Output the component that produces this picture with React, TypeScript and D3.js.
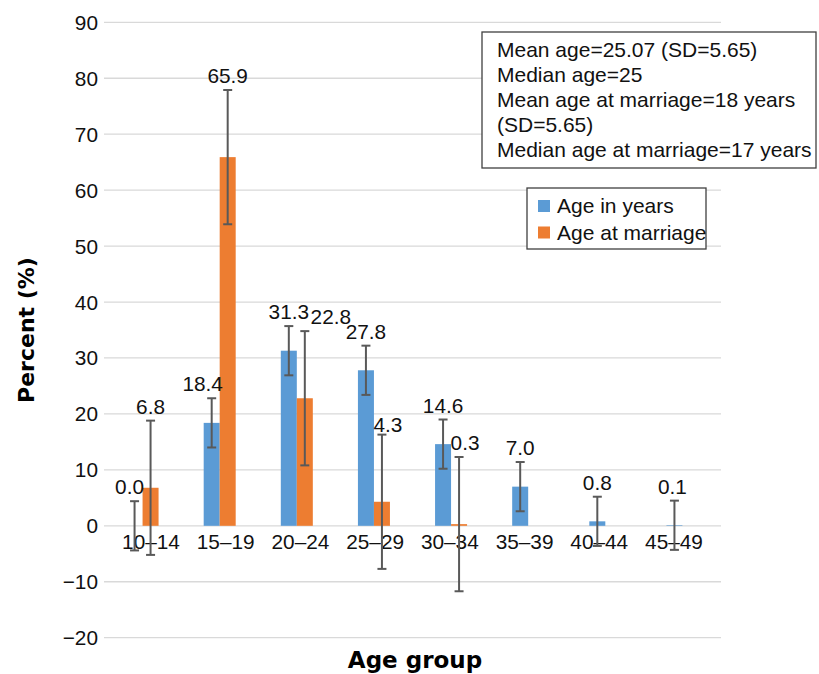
import React, { useEffect, useRef } from "react";
import * as d3 from "d3";

const categories = ["10–14", "15–19", "20–24", "25–29", "30–34", "35–39", "40–44", "45–49"];
const ageInYears = [0.0, 18.4, 31.3, 27.8, 14.6, 7.0, 0.8, 0.1];
const ageAtMarriage = [6.8, 65.9, 22.8, 4.3, 0.3, null, null, null];
const ageInYearsError = [4.4, 4.4, 4.4, 4.4, 4.4, 4.4, 4.4, 4.4];
const ageAtMarriageError = [12, 12, 12, 12, 12, null, null, null];
const yTicks = [-20, -10, 0, 10, 20, 30, 40, 50, 60, 70, 80, 90];
const seriesNames = ["Age in years", "Age at marriage"];
const infoLines = [
  "Mean age=25.07 (SD=5.65)",
  "Median age=25",
  "Mean age at marriage=18 years",
  "(SD=5.65)",
  "Median age at marriage=17 years",
];

const width = 819;
const height = 674;
const colors = ["#5B9BD5", "#ED7D31"];
const FONT = "'Liberation Sans', Arial, sans-serif";

// manual label nudges (Excel-style hand placed labels)
const labelNudge: Record<string, [number, number]> = {
  "0-0": [-5, 0],
  "0-1": [-9, 0],
  "1-2": [26, 0],
  "1-3": [6, 4],
  "1-4": [6, 0],
  "0-7": [-2, 0],
};

export default function App() {
  const svgRef = useRef<SVGSVGElement>(null);

  useEffect(() => {
    document.body.style.margin = "0";
    if (!svgRef.current) return;
    const svg = d3.select(svgRef.current);
    svg.selectAll("*").remove();

    const plot = { left: 104, right: 721, top: 22.3, bottom: 637.7 };

    const y = d3.scaleLinear().domain([-20, 90]).range([plot.bottom, plot.top]);

    const x0 = d3.scaleBand<string>()
      .domain(categories)
      .range([plot.left, plot.right])
      .paddingInner(0.585)
      .paddingOuter(0.2925);

    const x1 = d3.scaleBand<string>()
      .domain(seriesNames)
      .range([0, x0.bandwidth()]);

    // tick labels in the reference sit on a slightly tighter spacing
    const xLabel = d3.scalePoint<string>().domain(categories).range([151, 674]);

    // gridlines
    svg.append("g")
      .selectAll("line")
      .data(yTicks)
      .enter()
      .append("line")
      .attr("x1", plot.left)
      .attr("x2", plot.right)
      .attr("y1", (d) => y(d))
      .attr("y2", (d) => y(d))
      .attr("stroke", "#D9D9D9")
      .attr("stroke-width", 1.3);

    // y tick labels
    svg.append("g")
      .selectAll("text")
      .data(yTicks)
      .enter()
      .append("text")
      .attr("x", 98)
      .attr("y", (d) => y(d))
      .attr("dy", "0.36em")
      .attr("text-anchor", "end")
      .attr("font-family", FONT)
      .attr("font-size", "20.8px")
      .attr("fill", "#111")
      .text((d) => (d < 0 ? `\u2212${Math.abs(d)}` : `${d}`));

    const series = [
      { name: seriesNames[0], values: ageInYears, errors: ageInYearsError, color: colors[0] },
      { name: seriesNames[1], values: ageAtMarriage, errors: ageAtMarriageError, color: colors[1] },
    ];

    // bars
    series.forEach((s) => {
      const pts = categories
        .map((c, i) => ({ c, i, v: s.values[i] }))
        .filter((p) => p.v !== null) as { c: string; i: number; v: number }[];
      svg.append("g")
        .selectAll("rect")
        .data(pts)
        .enter()
        .append("rect")
        .attr("x", (d) => (x0(d.c) || 0) + (x1(s.name) || 0))
        .attr("width", x1.bandwidth())
        .attr("y", (d) => y(Math.max(0, d.v)))
        .attr("height", (d) => Math.abs(y(d.v) - y(0)))
        .attr("fill", s.color);
    });

    // x category labels
    svg.append("g")
      .selectAll("text")
      .data(categories)
      .enter()
      .append("text")
      .attr("x", (d) => xLabel(d) || 0)
      .attr("y", y(0) + 23)
      .attr("text-anchor", "middle")
      .attr("font-family", FONT)
      .attr("font-size", "20.8px")
      .attr("fill", "#111")
      .text((d) => d);

    // error bars + value labels
    series.forEach((s, si) => {
      categories.forEach((c, i) => {
        const v = s.values[i];
        const e = s.errors[i];
        if (v === null || e === null) return;
        const cx = (x0(c) || 0) + (x1(s.name) || 0) + x1.bandwidth() / 2;
        const top = y(v + e);
        const bot = y(v - e);
        const g = svg.append("g")
          .attr("stroke", "#595959")
          .attr("stroke-width", 2);
        g.append("line").attr("x1", cx).attr("x2", cx).attr("y1", top).attr("y2", bot);
        g.append("line").attr("x1", cx - 4.5).attr("x2", cx + 4.5).attr("y1", top).attr("y2", top);
        g.append("line").attr("x1", cx - 4.5).attr("x2", cx + 4.5).attr("y1", bot).attr("y2", bot);

        const [ndx, ndy] = labelNudge[`${si}-${i}`] || [0, 0];
        svg.append("text")
          .attr("x", cx + ndx)
          .attr("y", top - 7 + ndy)
          .attr("text-anchor", "middle")
          .attr("font-family", FONT)
          .attr("font-size", "20.8px")
          .attr("fill", "#111")
          .text(v.toFixed(1));
      });
    });

    // axis titles
    svg.append("text")
      .attr("transform", `translate(34, ${330}) rotate(-90)`)
      .attr("text-anchor", "middle")
      .attr("font-family", "'DejaVu Sans', sans-serif")
      .attr("font-weight", "bold")
      .attr("font-size", "22px")
      .attr("fill", "#000")
      .text("Percent (%)");

    svg.append("text")
      .attr("x", 415)
      .attr("y", 668)
      .attr("text-anchor", "middle")
      .attr("font-family", "'DejaVu Sans', sans-serif")
      .attr("font-weight", "bold")
      .attr("font-size", "23px")
      .attr("fill", "#000")
      .text("Age group");

    // info box
    svg.append("rect")
      .attr("x", 482)
      .attr("y", 32)
      .attr("width", 334)
      .attr("height", 136)
      .attr("fill", "#fff")
      .attr("stroke", "#404040")
      .attr("stroke-width", 1.3);

    svg.append("g")
      .selectAll("text")
      .data(infoLines)
      .enter()
      .append("text")
      .attr("x", 497)
      .attr("y", (_, i) => 57 + i * 25)
      .attr("font-family", FONT)
      .attr("font-size", "21px")
      .attr("fill", "#111")
      .text((d) => d);

    // legend
    svg.append("rect")
      .attr("x", 527)
      .attr("y", 188)
      .attr("width", 179)
      .attr("height", 61)
      .attr("fill", "#fff")
      .attr("stroke", "#404040")
      .attr("stroke-width", 1.3);

    const legend = svg.append("g")
      .selectAll("g")
      .data(series)
      .enter()
      .append("g")
      .attr("transform", (_, i) => `translate(538, ${200 + i * 26.5})`);
    legend.append("rect")
      .attr("width", 12)
      .attr("height", 12)
      .attr("fill", (d) => d.color);
    legend.append("text")
      .attr("x", 19)
      .attr("y", 13)
      .attr("font-family", FONT)
      .attr("font-size", "21px")
      .attr("fill", "#111")
      .text((d) => d.name);
  }, []);

  return (
    <svg
      ref={svgRef}
      width={width}
      height={height}
      style={{ display: "block", background: "#fff" }}
    />
  );
}
